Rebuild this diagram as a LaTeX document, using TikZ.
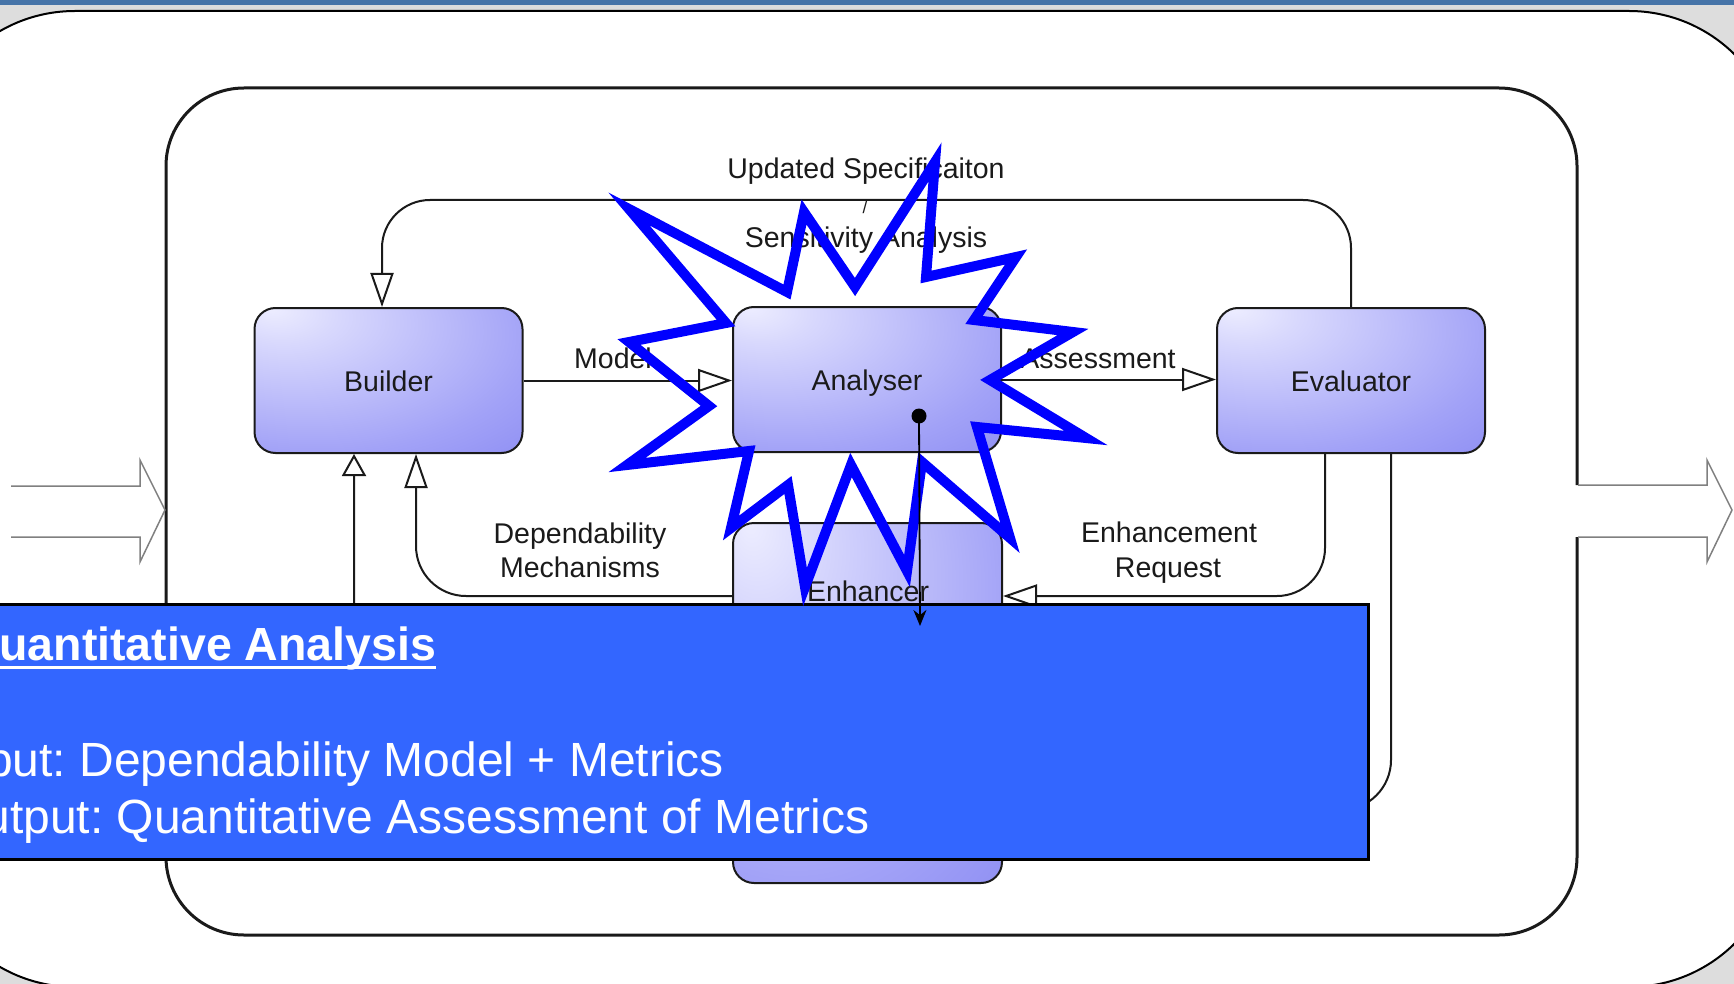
\documentclass[tikz,border=0pt]{standalone}
\usepackage{fontspec}
\setmainfont{Liberation Sans}
\frenchspacing
\usetikzlibrary{arrows.meta,calc}
\definecolor{bgGray}{HTML}{DDDDDD}
\definecolor{topBlue}{HTML}{4674A8}
\definecolor{panelBlue}{HTML}{3366FF}
\definecolor{bxA}{HTML}{EDEDFF}
\definecolor{bxB}{HTML}{D8D8FD}
\definecolor{bxC}{HTML}{A2A2F7}
\definecolor{bxD}{HTML}{7E7EF0}
\definecolor{lineDark}{HTML}{1A1A1A}
\definecolor{arrowGray}{HTML}{808080}
\definecolor{starBlue}{HTML}{0000FF}
\pgfdeclareradialshading{boxshade}{\pgfpoint{-22bp}{25bp}}{color(0bp)=(bxA); color(10bp)=(bxB); color(40bp)=(bxC); color(65bp)=(bxD); color(100bp)=(bxD)}
\begin{document}
\begin{tikzpicture}[x=1pt,y=-1pt,
  box/.style={draw=lineDark, line width=2pt, rounded corners=21pt, shade, shading=boxshade,
    minimum width=268pt, minimum height=145pt, inner sep=0pt, text height=21pt, text depth=0pt,
    font=\fontsize{28.5}{34}\selectfont, text=lineDark},
  lbl/.style={inner sep=0pt, anchor=base, font=\fontsize{28.5}{34}\selectfont, text=lineDark},
  conn/.style={draw=lineDark, line width=2pt},
  opentip/.style={-{Triangle[length=34pt,width=23pt,fill=white]}},
  smalltip/.style={-{Triangle[length=22pt,width=24pt,fill=white]}},
  bigarrow/.style={draw=arrowGray, line width=1.5pt, line join=miter},
  panelbox/.style={draw=black, line width=2.5pt, fill=panelBlue, inner sep=0pt},
  ptxt/.style={inner sep=0pt, text=white, anchor=base west},
  starline/.style={draw=starBlue, line width=10pt, line join=miter, miter limit=10},
]
\useasboundingbox (0,0) rectangle (1734,984);
\clip (0,0) rectangle (1734,984);
% background
\fill[bgGray] (0,0) rectangle (1734,984);
\fill[topBlue] (0,0) rectangle (1734,5);
\draw[line width=2pt, fill=white, rounded corners=150pt] (-75,11) rectangle (1779,987);
% inner frame with gap on the right
\draw[lineDark, line width=3pt, rounded corners=78pt] (1577,537) -- (1577,935) -- (166,935) -- (166,88) -- (1577,88) -- (1577,485);
% big in/out arrows
\draw[bigarrow] (11,486) -- (140,486) -- (140,460) -- (165,510) -- (140,562) -- (140,537) -- (11,537);
\draw[bigarrow] (1578,485) -- (1707,485) -- (1707,460) -- (1732,510) -- (1707,562) -- (1707,537) -- (1578,537);
% boxes
\node[box] (builder) at (388.5,380.5) {Builder};
\node[box] (analyser) at (867,379.5) {Analyser};
\node[box] (evaluator) at (1351,380.5) {Evaluator};
\node[box, minimum width=269pt, minimum height=360pt] (enhancer) at (867.5,703) {};
\node[lbl] (lEnhancer) at (868,601) {Enhancer};
% helper coordinates
\coordinate (toprow) at (0,200);
\coordinate (loopRow) at (0,810);
\coordinate (bIn) at ([xshift=-6.5pt]builder.north);
\coordinate (bDep) at ([xshift=27.5pt]builder.south);
\coordinate (bLoop) at ([xshift=-34.5pt]builder.south);
\coordinate (eReq) at ([xshift=-26pt]evaluator.south);
\coordinate (eOut) at ([xshift=40pt]evaluator.south);
\coordinate (enIn) at ([yshift=107pt]enhancer.east);
\coordinate (enOut) at ([yshift=107pt]enhancer.west);
% connectors
\draw[conn, opentip] (builder.east) -- (builder.east -| analyser.west);
\draw[conn, opentip] (analyser.east) -- (analyser.east -| evaluator.west);
\draw[conn, opentip, rounded corners=48pt] (evaluator.north) -- (evaluator.north |- toprow) -- (bIn |- toprow) -- (bIn);
\draw[conn, opentip, rounded corners=48pt] (eReq) -- (eReq |- enIn) -- (enIn);
\draw[conn, opentip, rounded corners=50pt] (enOut) -- (enOut -| bDep) -- (bDep);
\draw[conn, smalltip, rounded corners=50pt] (eOut) -- (eOut |- loopRow) -- (bLoop |- loopRow) -- (bLoop);
% labels
\node[lbl] (lUpd) at (866,179) {Updated Specificaiton};
\node[lbl, font=\fontsize{17}{20}\selectfont] (lSlash) at (865,214) {/};
\node[lbl] (lSens) at (866,248) {Sensitivity Analysis};
\node[lbl, anchor=base west] (lModel) at (574,368) {Model};
\node[lbl] (lAss) at (1098,368) {Assessment};
\node[lbl] (lDep1) at (580,543) {Dependability};
\node[lbl] (lDep2) at (580,577) {Mechanisms};
\node[lbl] (lEnh1) at (1169,542) {Enhancement};
\node[lbl] (lEnh2) at (1168,577) {Request};
% blue panel
\node[panelbox, anchor=north west, minimum width=1397pt, minimum height=255pt] (panel) at (-30,603) {};
\node[ptxt, font=\bfseries\fontsize{46.5}{56}\selectfont] (ptitle) at (-37,660) {Quantitative Analysis};
\draw[white, line width=3pt] ([yshift=-7.5pt]ptitle.base west) -- ([yshift=-7.5pt]ptitle.base east);
\node[ptxt, font=\fontsize{48}{58}\selectfont] (pin) at (-54,776) {Input: Dependability Model + Metrics};
\node[ptxt, font=\fontsize{48}{58}\selectfont] (pout) at (-54,833) {Output: Quantitative Assessment of Metrics};
% starburst
\draw[starline] (629,209) -- (787,292) -- (804,212) -- (855,287) -- (935,162) -- (926,277) -- (1016,257) -- (974,320) -- (1073,332) -- (990,380) -- (1086,438) -- (977,427) -- (1010,538) -- (922,462) -- (907,571) -- (851,465) -- (805,587) -- (788,485) -- (731,528) -- (749,451) -- (627,465) -- (709,406) -- (629,342) -- (726,323) -- cycle;
% dot arrow
\node[circle, fill=black, inner sep=0pt, minimum size=15pt] (dot) at (919,416) {};
\coordinate (dotend) at (920,626);
\draw[line width=1.8pt, -{Stealth[length=16pt,width=13pt]}] (dot.center) -- (dotend);
\end{tikzpicture}
\end{document}
